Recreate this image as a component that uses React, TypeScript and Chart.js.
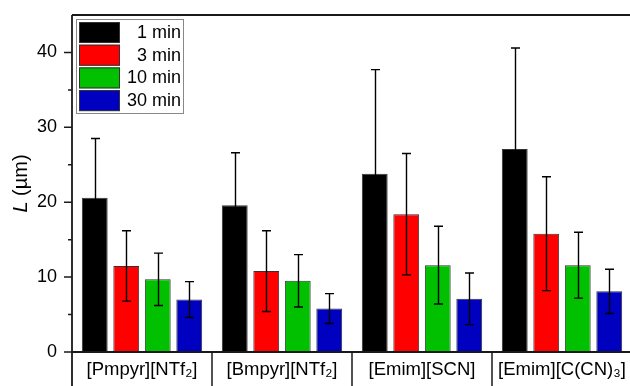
import React, { useEffect, useRef } from "react";
import { Chart, registerables } from "chart.js";

Chart.register(...registerables);

const categories = ["[Pmpyr][NTf\u2082]", "[Bmpyr][NTf\u2082]", "[Emim][SCN]", "[Emim][C(CN)\u2083]"];
const seriesLabels = ["1 min", "3 min", "10 min", "30 min"];
const values1 = [20.6, 19.6, 23.8, 27.1];
const errors1 = [7.9, 7.0, 13.9, 13.5];
const values3 = [11.5, 10.8, 18.4, 15.8];
const errors3 = [4.7, 5.4, 8.1, 7.6];
const values10 = [9.7, 9.5, 11.6, 11.6];
const errors10 = [3.5, 3.5, 5.2, 4.4];
const values30 = [7.0, 5.8, 7.1, 8.1];
const errors30 = [2.4, 2.0, 3.45, 2.95];
const yMajorTicks = [0, 10, 20, 30, 40];
const yMinorTicks = [5, 15, 25, 35];
const colors = ["#000000", "#FF0000", "#00C000", "#0000C0"];

const FONT = "'Liberation Sans', Arial, sans-serif";
const LINE = "#1a1a1a";

const decorPlugin = {
  id: "decor",
  afterDatasetsDraw(chart: any) {
    const ctx = chart.ctx;
    const y = chart.scales.y;
    const x = chart.scales.x;
    const ca = chart.chartArea;
    ctx.save();
    // error bars
    ctx.strokeStyle = "#000000";
    ctx.lineWidth = 1.4;
    chart.data.datasets.forEach((ds: any, di: number) => {
      const meta = chart.getDatasetMeta(di);
      meta.data.forEach((bar: any, i: number) => {
        const v = ds.data[i];
        const e = ds.errors[i];
        const yt = y.getPixelForValue(v + e);
        const yb = y.getPixelForValue(v - e);
        const bx = Math.round(bar.x) + 0.5;
        ctx.beginPath();
        ctx.moveTo(bx, yt);
        ctx.lineTo(bx, yb);
        ctx.moveTo(bx - 4.5, yt);
        ctx.lineTo(bx + 4.5, yt);
        ctx.moveTo(bx - 4.5, yb);
        ctx.lineTo(bx + 4.5, yb);
        ctx.stroke();
      });
    });
    // frame
    const H = chart.height;
    const W = chart.width;
    ctx.strokeStyle = LINE;
    ctx.lineWidth = 1.8;
    ctx.beginPath();
    ctx.moveTo(ca.left, ca.top);
    ctx.lineTo(W, ca.top);
    ctx.moveTo(ca.left, ca.top);
    ctx.lineTo(ca.left, H);
    ctx.moveTo(ca.left, ca.bottom);
    ctx.lineTo(W, ca.bottom);
    ctx.stroke();
    ctx.lineWidth = 1.5;
    ctx.beginPath();
    yMajorTicks.forEach((t) => {
      const py = y.getPixelForValue(t);
      ctx.moveTo(ca.left - 8, py);
      ctx.lineTo(ca.left, py);
    });
    yMinorTicks.forEach((t) => {
      const py = y.getPixelForValue(t);
      ctx.moveTo(ca.left - 4, py);
      ctx.lineTo(ca.left, py);
    });
    for (let i = 1; i < categories.length; i++) {
      const px = x.getPixelForValue(i - 0.5);
      ctx.moveTo(px, ca.bottom);
      ctx.lineTo(px, H);
    }
    ctx.stroke();
    // y title
    ctx.save();
    ctx.translate(21, (ca.top + ca.bottom) / 2);
    ctx.rotate(-Math.PI / 2);
    ctx.fillStyle = "#000";
    ctx.textBaseline = "middle";
    ctx.textAlign = "left";
    const italic = "italic 20px " + FONT;
    const normal = "20px " + FONT;
    ctx.font = italic;
    const wL = ctx.measureText("L").width;
    ctx.font = normal;
    const wR = ctx.measureText(" (\u00b5m)").width;
    const start = -(wL + wR) / 2;
    ctx.font = italic;
    ctx.fillText("L", start, 0);
    ctx.font = normal;
    ctx.fillText(" (\u00b5m)", start + wL, 0);
    ctx.restore();
    // legend
    const lx = 76, ly = 19, lw = 107, lh = 94;
    ctx.fillStyle = "#ffffff";
    ctx.fillRect(lx, ly, lw, lh);
    ctx.strokeStyle = "#888888";
    ctx.lineWidth = 1;
    ctx.strokeRect(lx + 0.5, ly + 0.5, lw, lh);
    chart.data.datasets.forEach((ds: any, di: number) => {
      const ry = 22 + di * 22.7;
      ctx.fillStyle = ds.backgroundColor;
      ctx.fillRect(79, ry, 41, 21);
      ctx.strokeStyle = "#333";
      ctx.strokeRect(79.5, ry + 0.5, 40, 20);
      ctx.fillStyle = "#000";
      ctx.font = "18px " + FONT;
      ctx.textAlign = "right";
      ctx.textBaseline = "middle";
      ctx.fillText(ds.label, 181, ry + 11);
    });
    ctx.restore();
  },
};

export default function App() {
  const ref = useRef<HTMLCanvasElement | null>(null);
  useEffect(() => {
    if (!ref.current) return;
    const valueSets = [values1, values3, values10, values30];
    const errorSets = [errors1, errors3, errors10, errors30];
    const chart = new Chart(ref.current, {
      type: "bar",
      data: {
        labels: categories,
        datasets: seriesLabels.map((label, i) => ({
          label,
          data: valueSets[i],
          errors: errorSets[i],
          backgroundColor: colors[i],
          borderColor: "#333333",
          borderWidth: 1,
          categoryPercentage: 0.9,
          barPercentage: 0.82,
        })) as any,
      },
      options: {
        animation: false,
        responsive: false,
        layout: { padding: { top: 15, right: 8, left: 0, bottom: 0 } },
        plugins: { legend: { display: false }, tooltip: { enabled: false } },
        scales: {
          x: {
            grid: { display: false, drawTicks: false },
            border: { display: false },
            ticks: {
              color: "#000",
              font: { family: FONT, size: 18.5 },
              maxRotation: 0,
              autoSkip: false,
              padding: 7,
            },
            afterFit: (s: any) => {
              s.height = 34;
              s.paddingLeft = 0;
              s.paddingRight = 0;
            },
          },
          y: {
            min: 0,
            max: 45,
            grid: { display: false, drawTicks: false },
            border: { display: false },
            ticks: {
              color: "#000",
              font: { family: FONT, size: 18 },
              padding: 15,
            },
            afterBuildTicks: (s: any) => {
              s.ticks = yMajorTicks.map((v) => ({ value: v }));
            },
            afterFit: (s: any) => {
              s.width = 72;
              s.paddingTop = 0;
              s.paddingBottom = 0;
            },
          },
        },
      },
      plugins: [decorPlugin],
    });
    return () => chart.destroy();
  }, []);
  return (
    <div style={{ position: "absolute", left: 0, top: 0, width: 640, height: 386, overflow: "hidden", background: "#fff" }}>
      <canvas ref={ref} width={640} height={386} style={{ display: "block" }} />
    </div>
  );
}
